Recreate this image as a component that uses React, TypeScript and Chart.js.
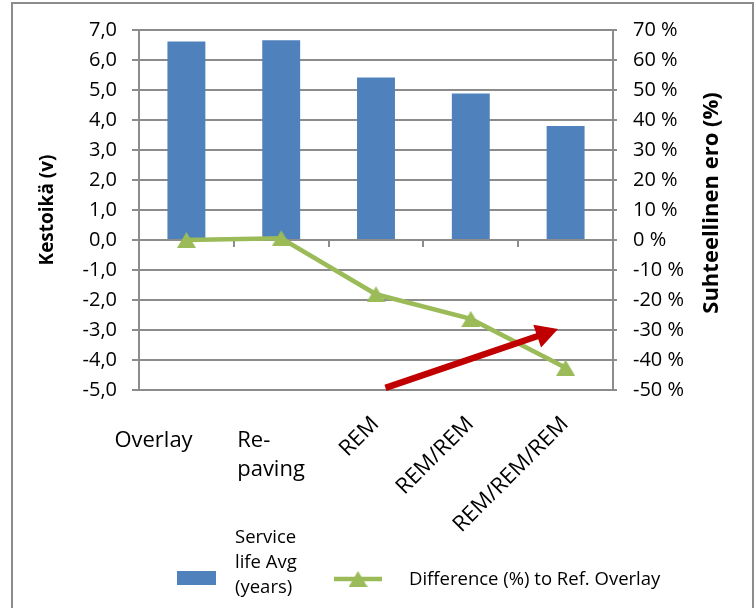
import { useEffect, useRef } from 'react';
import { Chart, registerables } from 'chart.js';

Chart.register(...registerables);

// ---- data ----
const CATEGORIES = ['Overlay', 'Re-paving', 'REM', 'REM/REM', 'REM/REM/REM'];
// how each category label is broken / set on the axis
const CATEGORY_LINES = [['Overlay'], ['Re-', 'paving'], ['REM'], ['REM/REM'], ['REM/REM/REM']];
const CATEGORY_ROTATED = [false, false, true, true, true];

const SERVICE_LIFE_YEARS = [6.62, 6.66, 5.42, 4.88, 3.8];
const DIFFERENCE_PCT = [0, 0.6, -18.1, -26.3, -42.6];

const SERIES_NAMES = ['Service life Avg (years)', 'Difference (%) to Ref. Overlay'];
const BAR_LEGEND_LINES = ['Service', 'life Avg', '(years)'];

const LEFT_AXIS_RANGE = [-5, 7];
const LEFT_AXIS_STEP = 1;
const RIGHT_AXIS_RANGE = [-50, 70];
const RIGHT_AXIS_STEP = 10;

const LEFT_TITLE = 'Kestoikä (v)';
const RIGHT_TITLE = 'Suhteellinen ero (%)';

// trend arrow, given as [category index, right-axis percent]
const ARROW_FROM = [2.1, -49.3];
const ARROW_TO = [3.92, -29.7];

// ---- style ----
const FONT = '"Open Sans", "Liberation Sans", sans-serif';
const BAR_COLOR = '#4f81bd';
const LINE_COLOR = '#9bbb59';
const ARROW_COLOR = '#c00000';
const GRID_COLOR = '#8c8c8c';
const TEXT_COLOR = '#000000';

function triangleMarker(w: number, h: number, color: string) {
  const c = document.createElement('canvas');
  c.width = w;
  c.height = h;
  const g = c.getContext('2d')!;
  g.fillStyle = color;
  g.beginPath();
  g.moveTo(w / 2, 0);
  g.lineTo(w, h);
  g.lineTo(0, h);
  g.closePath();
  g.fill();
  return c;
}

const decorPlugin = {
  id: 'decor',
  beforeDraw(chart: any) {
    const { ctx } = chart;
    ctx.save();
    ctx.fillStyle = '#ffffff';
    ctx.fillRect(0, 0, chart.width, chart.height);
    ctx.restore();
  },
  beforeDatasetsDraw(chart: any) {
    // category tick marks on the zero line
    const { ctx, chartArea } = chart;
    const x = chart.scales.x;
    const y0 = Math.round(chart.scales.y.getPixelForValue(0));
    ctx.save();
    ctx.strokeStyle = GRID_COLOR;
    ctx.lineWidth = 2;
    ctx.beginPath();
    for (let i = 1; i < CATEGORIES.length; i++) {
      const px = Math.round(x.getPixelForValue(i - 0.5));
      if (px <= chartArea.left || px >= chartArea.right) continue;
      ctx.moveTo(px, y0);
      ctx.lineTo(px, y0 + 7);
    }
    ctx.stroke();
    ctx.restore();
  },
  afterDatasetsDraw(chart: any) {
    const { ctx } = chart;
    const x = chart.scales.x;
    const y1 = chart.scales.y1;
    const sx = x.getPixelForValue(ARROW_FROM[0]);
    const sy = y1.getPixelForValue(ARROW_FROM[1]);
    const tx = x.getPixelForValue(ARROW_TO[0]);
    const ty = y1.getPixelForValue(ARROW_TO[1]);
    const len = Math.hypot(tx - sx, ty - sy);
    const ux = (tx - sx) / len;
    const uy = (ty - sy) / len;
    const nx = -uy;
    const ny = ux;
    const headLen = 22;
    const headHalf = 12;
    const shaftHalf = 3.2;
    const bx = tx - ux * headLen;
    const by = ty - uy * headLen;
    ctx.save();
    ctx.fillStyle = ARROW_COLOR;
    ctx.beginPath();
    ctx.moveTo(sx + nx * shaftHalf, sy + ny * shaftHalf);
    ctx.lineTo(bx + nx * shaftHalf, by + ny * shaftHalf);
    ctx.lineTo(bx + nx * headHalf, by + ny * headHalf);
    ctx.lineTo(tx, ty);
    ctx.lineTo(bx - nx * headHalf, by - ny * headHalf);
    ctx.lineTo(bx - nx * shaftHalf, by - ny * shaftHalf);
    ctx.lineTo(sx - nx * shaftHalf, sy - ny * shaftHalf);
    ctx.closePath();
    ctx.fill();
    ctx.restore();
  },
  afterDraw(chart: any) {
    const { ctx } = chart;
    const x = chart.scales.x;
    ctx.save();
    ctx.fillStyle = TEXT_COLOR;

    // category labels
    ctx.font = `22px ${FONT}`;
    CATEGORY_LINES.forEach((lines, i) => {
      const cx = x.getPixelForValue(i);
      if (CATEGORY_ROTATED[i]) {
        ctx.save();
        ctx.translate(cx + 4, 425);
        ctx.rotate(-Math.PI / 4);
        ctx.textAlign = 'right';
        ctx.textBaseline = 'alphabetic';
        ctx.fillText(lines.join(' '), 0, 0);
        ctx.restore();
      } else {
        ctx.textAlign = 'left';
        ctx.textBaseline = 'alphabetic';
        const left = i === 0 ? cx - 72 : cx - 44;
        lines.forEach((t, k) => ctx.fillText(t, left, 447 + k * 29));
      }
    });

    // right axis title, reading bottom to top
    const area = chart.chartArea;
    ctx.save();
    ctx.translate(711.5, (area.top + area.bottom) / 2 - 7);
    ctx.rotate(-Math.PI / 2);
    ctx.font = `bold 22px ${FONT}`;
    ctx.textAlign = 'center';
    ctx.textBaseline = 'middle';
    ctx.fillText(RIGHT_TITLE, 0, 0);
    ctx.restore();

    // legend
    ctx.fillStyle = BAR_COLOR;
    ctx.fillRect(177, 571, 39, 14);
    ctx.fillStyle = TEXT_COLOR;
    ctx.font = `18.5px ${FONT}`;
    ctx.textAlign = 'left';
    ctx.textBaseline = 'alphabetic';
    BAR_LEGEND_LINES.forEach((t, k) => ctx.fillText(t, 235, 543 + k * 25));

    ctx.strokeStyle = LINE_COLOR;
    ctx.lineWidth = 4.5;
    ctx.beginPath();
    ctx.moveTo(334, 579);
    ctx.lineTo(382, 579);
    ctx.stroke();
    ctx.drawImage(markerImg, 358 - markerImg.width / 2, 579 - markerImg.height / 2);
    ctx.fillStyle = TEXT_COLOR;
    ctx.textBaseline = 'middle';
    ctx.fillText(SERIES_NAMES[1], 409, 580);

    // outer frame
    ctx.strokeStyle = GRID_COLOR;
    ctx.lineWidth = 2;
    ctx.strokeRect(12, 3, 741, 640);
    ctx.restore();
  },
};

const markerImg = triangleMarker(19, 16, LINE_COLOR);

export default function App() {
  const ref = useRef<HTMLCanvasElement>(null);

  useEffect(() => {
    const chart = new Chart(ref.current!, {
      type: 'bar',
      data: {
        labels: CATEGORIES,
        datasets: [
          {
            type: 'line',
            label: SERIES_NAMES[1],
            data: DIFFERENCE_PCT,
            yAxisID: 'y1',
            borderColor: LINE_COLOR,
            backgroundColor: LINE_COLOR,
            borderWidth: 4.5,
            pointStyle: markerImg as any,
            pointRadius: 9,
            tension: 0,
            order: 0,
          } as any,
          {
            type: 'bar',
            label: SERIES_NAMES[0],
            data: SERVICE_LIFE_YEARS,
            yAxisID: 'y',
            backgroundColor: BAR_COLOR,
            barPercentage: 0.4,
            categoryPercentage: 1,
            order: 1,
          },
        ],
      },
      options: {
        responsive: false,
        animation: false,
        devicePixelRatio: 1,
        layout: { padding: { left: 0, right: 0, top: 30, bottom: 218 } },
        plugins: {
          legend: { display: false },
          tooltip: { enabled: false },
        },
        scales: {
          x: {
            display: false,
          },
          y: {
            position: 'left',
            min: LEFT_AXIS_RANGE[0],
            max: LEFT_AXIS_RANGE[1],
            afterFit: (s: any) => {
              s.width = 139;
            },
            ticks: {
              stepSize: LEFT_AXIS_STEP,
              padding: 15,
              color: TEXT_COLOR,
              font: { family: FONT, size: 20 },
              callback: (v: any) => Number(v).toFixed(1).replace('.', ','),
            },
            grid: { color: GRID_COLOR, lineWidth: 2, tickLength: 7 },
            border: { display: true, color: GRID_COLOR, width: 2 },
            title: {
              display: true,
              text: LEFT_TITLE,
              color: TEXT_COLOR,
              font: { family: FONT, size: 19, weight: 'bold' },
              padding: { top: 36, bottom: 0 },
            },
          },
          y1: {
            position: 'right',
            min: RIGHT_AXIS_RANGE[0],
            max: RIGHT_AXIS_RANGE[1],
            afterFit: (s: any) => {
              s.width = 143;
            },
            ticks: {
              stepSize: RIGHT_AXIS_STEP,
              padding: 16,
              color: TEXT_COLOR,
              font: { family: FONT, size: 20 },
              callback: (v: any) => `${v} %`,
            },
            grid: { drawOnChartArea: false, color: GRID_COLOR, lineWidth: 2, tickLength: 4 },
            border: { display: true, color: GRID_COLOR, width: 2 },
          },
        },
      },
      plugins: [decorPlugin],
    } as any);
    return () => chart.destroy();
  }, []);

  return (
    <div style={{ position: 'fixed', left: 0, top: 0, width: 756, height: 608, background: '#fff' }}>
      <canvas ref={ref} width={756} height={608} style={{ display: 'block' }} />
    </div>
  );
}
